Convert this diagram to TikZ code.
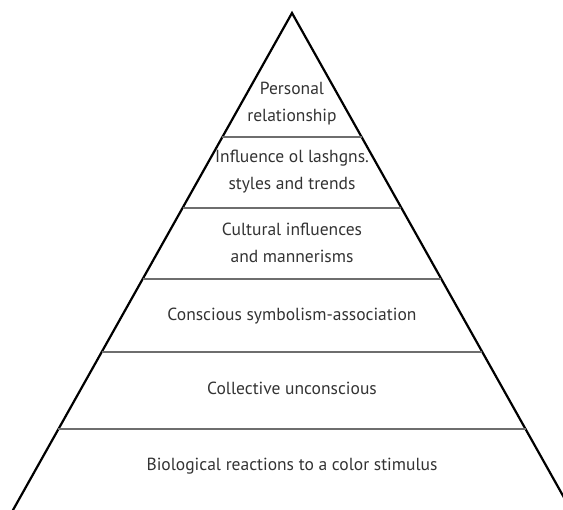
\documentclass[tikz,border=0pt]{standalone}
\usepackage{fontspec}
\setmainfont{PT Sans}
\usetikzlibrary{calc}
\definecolor{inkgray}{HTML}{333333}
\definecolor{rulegray}{HTML}{6E6E6E}
\begin{document}
\begin{tikzpicture}[x=1pt,y=-1pt,
  side/.style={draw=black,line width=2.2pt},
  tier/.style={draw=rulegray,line width=1.3pt},
  label/.style={text=inkgray,font=\fontsize{17.5}{27}\selectfont,align=center,inner sep=0pt}]
  \useasboundingbox (0,0) rectangle (563,510);
  \begin{scope}
    \clip (0,0) rectangle (563,510);
    % pyramid outline
    \coordinate (apex) at (292,13);
    \coordinate (footL) at (7.4,520);
    \coordinate (footR) at (576.6,520);
    \draw[side,line join=miter] (footL) -- (apex) -- (footR);
    % tier boundaries
    \foreach \t [count=\i] in {0.2446,0.3846,0.5247,0.6686,0.8205}{
      \coordinate (l\i) at ($(apex)!\t!(footL)$);
      \coordinate (r\i) at ($(apex)!\t!(footR)$);
      \draw[tier] (l\i) -- (r\i);
    }
  \end{scope}
  % tier labels
  \node[label] (t1) at (292,104) {Personal\\relationship};
  \node[label] (t2) at (292,172) {Influence ol lashgns.\\styles and trends};
  \node[label] (t3) at (292,243) {Cultural influences\\and mannerisms};
  \node[label] (t4) at (292,316) {Conscious symbolism-association};
  \node[label] (t5) at (292,388) {Collective unconscious};
  \node[label] (t6) at (292,466) {Biological reactions to a color stimulus};
\end{tikzpicture}
\end{document}
